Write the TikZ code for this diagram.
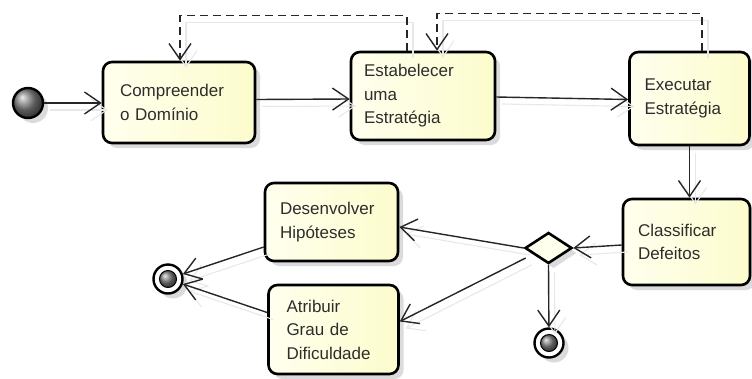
\documentclass[tikz,border=0pt]{standalone}
\usepackage{fontspec}
\setmainfont{Liberation Sans}
\usetikzlibrary{arrows.meta,shapes.geometric,shadows,calc}
\definecolor{boxlight}{RGB}{255,255,238}
\definecolor{boxdark}{RGB}{252,252,205}
\definecolor{txt}{RGB}{45,45,45}
\begin{document}
\begin{tikzpicture}[x=1pt,y=-1pt,
  shad/.style={drop shadow={shadow xshift=5pt,shadow yshift=-5pt,fill=black!14,opacity=1}},
  box/.style={draw=black, line width=2.6pt, rounded corners=9pt,
    left color=boxlight, right color=boxdark, shad,
    font=\fontsize{17}{23.5}\selectfont, text=txt, align=left, inner ysep=0pt},
  startnode/.style={circle, draw=black, line width=2.4pt, minimum size=30pt, inner sep=0pt, ball color=black!50, shad},
  endnode/.style={circle, draw=black, line width=2.4pt, minimum size=29pt, inner sep=0pt, fill=white, shad},
  decision/.style={diamond, draw=black, line width=2.6pt, minimum width=47pt, minimum height=31pt, inner sep=0pt, fill=boxlight, shad},
  conn/.style={-{Straight Barb[length=16pt,width=22pt,line width=1.4pt]}, line width=1.4pt, draw=black!85},
  dconn/.style={conn, dash pattern=on 8pt off 5pt},
]
\useasboundingbox (0,0) rectangle (752,378);

\node[startnode] (init) at (28,103) {};
\node[box, minimum width=152pt, minimum height=81pt, inner xsep=17pt, text width=118pt] (comp) at (179,102.5) {Compreender\\o Domínio};
\node[box, minimum width=144pt, minimum height=88pt, inner xsep=13pt, text width=118pt] (estab) at (423,96) {Estabelecer\\uma\\Estratégia};
\node[box, minimum width=120pt, minimum height=93pt, inner xsep=15pt, text width=90pt] (exec) at (689.5,98.5) {Executar\\Estratégia};
\node[box, minimum width=127pt, minimum height=86pt, inner xsep=15pt, text width=97pt] (class) at (686.5,242) {Classificar\\Defeitos};
\node[decision] (dec) at (548.5,248) {};
\node[box, minimum width=133pt, minimum height=78pt, inner xsep=15pt, text width=103pt] (desenv) at (331.5,222) {Desenvolver\\Hipóteses};
\node[box, minimum width=130pt, minimum height=89pt, inner xsep=18pt, text width=94pt] (atrib) at (333.5,329.5) {Atribuir\\Grau de\\Dificuldade};
\node[endnode] (fin1) at (168,279) {};
\node[endnode] (fin2) at (549,343) {};
\shadedraw[line width=1pt, ball color=black!50] (fin1.center) circle (8.5pt);
\shadedraw[line width=1pt, ball color=black!50] (fin2.center) circle (8.5pt);

\newcommand\myconns{%
  \draw[conn] (init) -- (comp.west |- init);
  \draw[conn] ([yshift=3pt]comp.east) -- ([yshift=-3pt]estab.west);
  \draw[conn] ([yshift=-1pt]estab.east) -- ([yshift=-1pt]exec.west);
  \draw[conn] (exec.south) -- (exec.south |- class.north);
  \draw[conn] ([yshift=-3pt]class.west) -- (dec.east);
  \draw[conn] (dec.west) -- ([yshift=-5pt]desenv.east);
  \draw[conn] ($(dec.west)+(2,10)$) -- ([yshift=8pt]atrib.east);
  \draw[conn] (dec.south) -- (fin2);
  \draw[conn] ([yshift=-25pt]desenv.west) -- (fin1);
  \draw[conn] ([yshift=17pt]atrib.west) -- (fin1);
  \draw[dconn] ([xshift=-16pt]estab.north) -- ++(0,-35) -| ([xshift=1pt]comp.north);
  \draw[dconn] ([xshift=12.5pt]exec.north) -- ++(0,-37) -| ([xshift=14pt]estab.north);
}
\begin{scope}[transform canvas={shift={(6pt,-7pt)}},
  conn/.style={-{Straight Barb[length=16pt,width=22pt,line width=1.1pt]}, line width=1.1pt, draw=black!9}, dconn/.style={conn}]
  \myconns
\end{scope}
\myconns
\end{tikzpicture}
\end{document}
